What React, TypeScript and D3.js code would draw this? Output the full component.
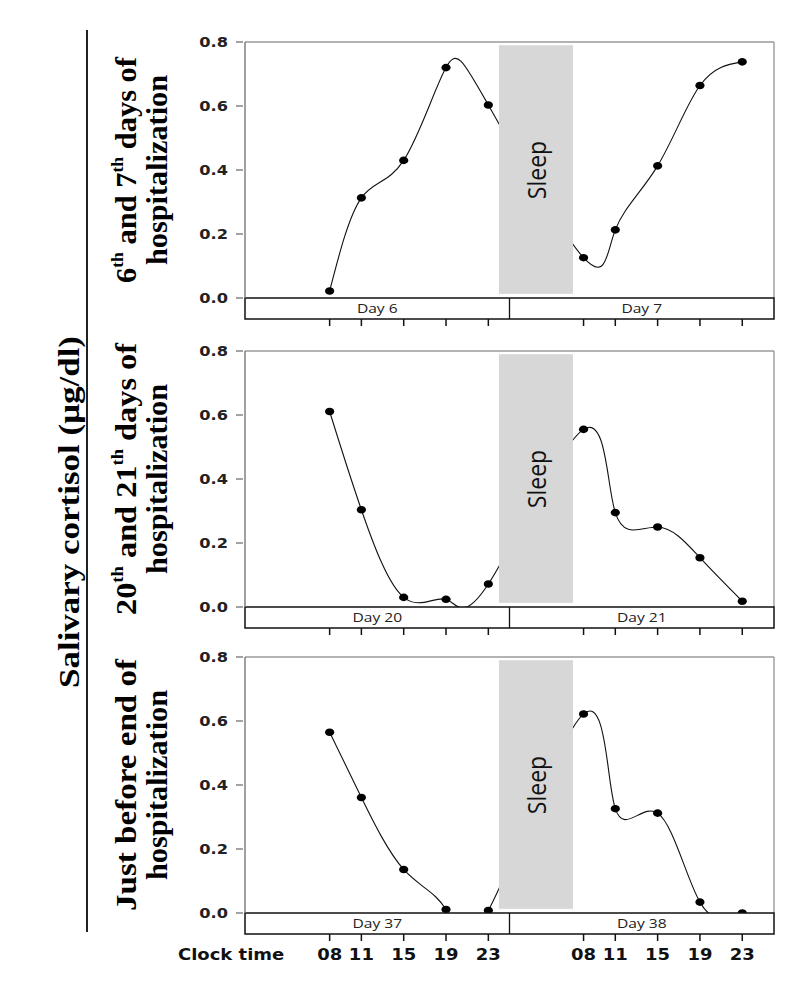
import React from "react";
import * as d3 from "d3";

// ---- data ----
const sampleHours = [8, 11, 15, 19, 23, 32, 35, 39, 43, 47];
const clockLabels = ["08", "11", "15", "19", "23", "08", "11", "15", "19", "23"];
const yTicks = [0, 0.2, 0.4, 0.6, 0.8];

const cortisolDay6_7 = [0.022, 0.313, 0.43, 0.72, 0.603, 0.126, 0.213, 0.413, 0.664, 0.738];
const cortisolDay20_21 = [0.611, 0.304, 0.03, 0.024, 0.072, 0.555, 0.295, 0.25, 0.154, 0.018];
const cortisolDay37_38 = [0.565, 0.361, 0.136, 0.011, 0.008, 0.622, 0.326, 0.312, 0.034, 0.0];

const dayLabels1 = ["Day 6", "Day 7"];
const dayLabels2 = ["Day 20", "Day 21"];
const dayLabels3 = ["Day 37", "Day 38"];

const sleepHours = [24, 31];
const sleepValues = [0.013, 0.79];
const hourDomain = [0, 50];

const yTitle = "Salivary cortisol (\u03bcg/dl)";

type Part = { t: string; sup?: boolean };
const panelLabel1: Part[] = [{ t: "6" }, { t: "th", sup: true }, { t: " and 7" }, { t: "th", sup: true }, { t: " days of" }];
const panelLabel2: Part[] = [{ t: "20" }, { t: "th", sup: true }, { t: " and 21" }, { t: "th", sup: true }, { t: " days of" }];
const panelLabel3: Part[] = [{ t: "Just before end of" }];
const panelLabelLine2 = "hospitalization";

const panels = [
  { values: cortisolDay6_7, days: dayLabels1, label: panelLabel1, len1: 226 },
  { values: cortisolDay20_21, days: dayLabels2, label: panelLabel2, len1: 272 },
  { values: cortisolDay37_38, days: dayLabels3, label: panelLabel3, len1: 252 },
];

// ---- layout ----
const W = 811;
const H = 999;
const left = 245;
const right = 774;
const panelTops = [42, 351, 657];
const plotH = 256;
const dayBoxH = 21;
const SX = 1.2;
const SANS = "'DejaVu Sans', Verdana, sans-serif";
const SANS2 = "'Open Sans', 'DejaVu Sans', sans-serif";
const SERIF = "'Liberation Serif', 'Times New Roman', serif";

const x = d3.scaleLinear().domain(hourDomain).range([left, right]);

function Panel({ idx }: { idx: number }) {
  const p = panels[idx];
  const top = panelTops[idx];
  const y = d3.scaleLinear().domain([0, 0.8]).range([top + plotH, top]);
  const y0 = y(0);
  const pts = sampleHours.map((h, i) => [h, p.values[i]] as [number, number]);
  const line = d3
    .line<[number, number]>()
    .x((d) => x(d[0]))
    .y((d) => y(d[1]))
    .curve(d3.curveNatural);
  const clipId = `clip${idx}`;
  const mid = x((hourDomain[0] + hourDomain[1]) / 2);
  const sx0 = x(sleepHours[0]);
  const sx1 = x(sleepHours[1]);
  const sy0 = y(sleepValues[1]);
  const sy1 = y(sleepValues[0]);
  const cy = (top + y0) / 2;
  const labelCx = 127;
  const label2Cx = 158;
  return (
    <g>
      <defs>
        <clipPath id={clipId}>
          <rect x={left} y={top} width={right - left} height={plotH} />
        </clipPath>
      </defs>
      {/* frame */}
      <line x1={left} x2={right} y1={top} y2={top} stroke="#9a9a9a" strokeWidth={1.3} />
      <line x1={right} x2={right} y1={top} y2={y0} stroke="#8a8a8a" strokeWidth={1.2} />
      {/* curve */}
      <path d={line(pts) || ""} fill="none" stroke="#111" strokeWidth={1.1} clipPath={`url(#${clipId})`} />
      {/* sleep */}
      <rect x={sx0} y={sy0} width={sx1 - sx0} height={sy1 - sy0} fill="#d7d7d7" />
      <text
        transform={`translate(${(sx0 + sx1) / 2},${cy}) scale(1.1,1) rotate(-90)`}
        textAnchor="middle"
        dominantBaseline="central"
        fontFamily={SANS2}
        fontSize={23}
        fill="#111"
      >
        Sleep
      </text>
      {/* dots */}
      {pts.map((d, i) => (
        <ellipse key={i} cx={x(d[0])} cy={y(d[1])} rx={4.6} ry={3.8} fill="#000" />
      ))}
      {/* day box */}
      <rect x={left} y={y0} width={right - left} height={dayBoxH} fill="#fff" stroke="#111" strokeWidth={1.5} />
      <line x1={mid} x2={mid} y1={y0} y2={y0 + dayBoxH} stroke="#111" strokeWidth={1.3} />
      {p.days.map((d, i) => (
        <text
          key={d}
          transform={`translate(${i === 0 ? (left + mid) / 2 : (mid + right) / 2},${y0 + 15}) scale(${SX},1)`}
          textAnchor="middle"
          fontFamily={SANS2}
          fontSize={13}
          fill="#222"
        >
          {d}
        </text>
      ))}
      {/* bottom ticks */}
      {sampleHours.map((h, i) => (
        <line key={i} x1={x(h)} x2={x(h)} y1={y0 + dayBoxH} y2={y0 + dayBoxH + 7} stroke="#111" strokeWidth={1.5} />
      ))}
      {/* y axis */}
      <line x1={left} x2={left} y1={top} y2={y0} stroke="#777" strokeWidth={1.4} />
      {yTicks.map((t) => (
        <g key={t}>
          <line x1={left - 9} x2={left - 2} y1={y(t)} y2={y(t)} stroke="#666" strokeWidth={1.2} />
          <text
            transform={`translate(${left - 17},${y(t)}) scale(${SX},1)`}
            textAnchor="end"
            dominantBaseline="central"
            fontFamily={SANS}
            fontWeight="bold"
            fontSize={13.5}
            fill="#222"
          >
            {t.toFixed(1)}
          </text>
        </g>
      ))}
      {/* panel labels */}
      <text
        transform={`translate(${labelCx},${cy}) scale(1.1,1) rotate(-90)`}
        textAnchor="middle"
        dominantBaseline="central"
        fontFamily={SERIF}
        fontWeight="bold"
        fontSize={26}
        fill="#000"
        textLength={p.len1}
        lengthAdjust="spacingAndGlyphs"
      >
        {p.label.map((pt, i) =>
          pt.sup ? (
            <tspan key={i} fontSize={15} dy={-9}>
              {pt.t}
            </tspan>
          ) : (
            <tspan key={i} dy={i > 0 && p.label[i - 1].sup ? 9 : 0}>
              {pt.t}
            </tspan>
          )
        )}
      </text>
      <text
        transform={`translate(${label2Cx},${cy}) scale(1.1,1) rotate(-90)`}
        textAnchor="middle"
        dominantBaseline="central"
        fontFamily={SERIF}
        fontWeight="bold"
        fontSize={26}
        fill="#000"
        textLength={190}
        lengthAdjust="spacingAndGlyphs"
      >
        {panelLabelLine2}
      </text>
    </g>
  );
}

export default function App() {
  const lastTop = panelTops[2];
  const baseY = lastTop + plotH + dayBoxH + 26;
  return (
    <svg
      width={W}
      height={H}
      viewBox={`0 0 ${W} ${H}`}
      style={{ position: "absolute", left: 0, top: 0, background: "#fff" }}
    >
      <rect x={0} y={0} width={W} height={H} fill="#fff" />
      <line x1={87} x2={87} y1={30} y2={932} stroke="#222" strokeWidth={2} />
      <text
        transform={`translate(70,512) scale(1.1,1) rotate(-90)`}
        textAnchor="middle"
        dominantBaseline="central"
        fontFamily={SERIF}
        fontWeight="bold"
        fontSize={26}
        fill="#000"
        textLength={352}
        lengthAdjust="spacingAndGlyphs"
      >
        {yTitle}
      </text>
      {panels.map((_, i) => (
        <Panel key={i} idx={i} />
      ))}
      <text
        transform={`translate(178,${baseY}) scale(${SX},1)`}
        fontFamily={SANS}
        fontWeight="bold"
        fontSize={15}
        fill="#111"
      >
        Clock time
      </text>
      {sampleHours.map((h, i) => (
        <text
          key={i}
          transform={`translate(${x(h)},${baseY}) scale(${SX},1)`}
          textAnchor="middle"
          fontFamily={SANS}
          fontWeight="bold"
          fontSize={15}
          fill="#111"
        >
          {clockLabels[i]}
        </text>
      ))}
    </svg>
  );
}
